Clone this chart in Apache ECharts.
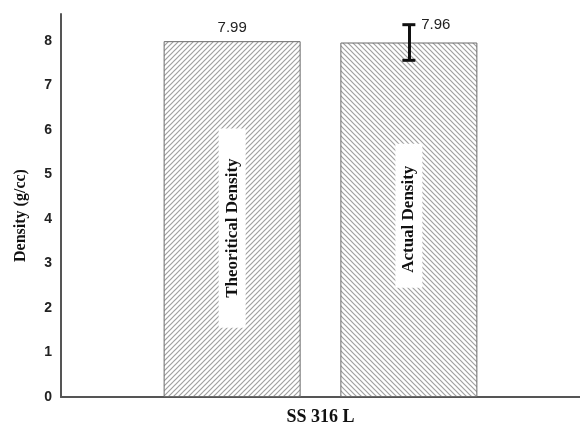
<!DOCTYPE html>
<html>
<head>
<meta charset="utf-8">
<script src="https://cdn.jsdelivr.net/npm/echarts@6/dist/echarts.min.js"></script>
<style>
  html, body { margin: 0; padding: 0; background: #ffffff; }
  #chart { width: 580px; height: 425px; }
</style>
</head>
<body>
<div id="chart"></div>
<script>
// Material and measured densities (g/cc)
const categories = ['SS 316 L'];
const seriesNames = ['Theoritical Density', 'Actual Density'];
const theoreticalValues = [7.99];
const actualValues = [7.96];
const actualError = [0.40];

// Value axis range and step
const yMin = 0;
const yMax = 8.6;
const yStep = 1;

// Diagonal hatch fill built on a small tile canvas
function hatch(dir) {
  const s = 5;
  const c = document.createElement('canvas');
  c.width = s; c.height = s;
  const g = c.getContext('2d');
  g.fillStyle = '#ffffff';
  g.fillRect(0, 0, s, s);
  g.strokeStyle = '#a0a0a0';
  g.lineWidth = 1.2;
  g.beginPath();
  if (dir === '/') {
    g.moveTo(-1, s + 1); g.lineTo(s + 1, -1);
    g.moveTo(-1, 1); g.lineTo(1, -1);
    g.moveTo(s - 1, s + 1); g.lineTo(s + 1, s - 1);
  } else {
    g.moveTo(-1, -1); g.lineTo(s + 1, s + 1);
    g.moveTo(-1, s - 1); g.lineTo(1, s + 1);
    g.moveTo(s - 1, -1); g.lineTo(s + 1, 1);
  }
  g.stroke();
  return { image: c, repeat: 'repeat' };
}

const nameLabel = {
  show: true,
  position: 'inside',
  rotate: 90,
  formatter: '{a}',
  fontFamily: 'Liberation Serif',
  fontWeight: 'bold',
  fontSize: 17,
  color: '#111111',
  backgroundColor: '#ffffff'
};

const valueLabelStyle = {
  show: true,
  position: 'top',
  fontFamily: 'Liberation Sans',
  fontSize: 15,
  color: '#222222',
  formatter: (p) => Number(p.value).toFixed(2)
};

const chart = echarts.init(document.getElementById('chart'), null, { renderer: 'canvas' });

const errLo = actualValues[0] - actualError[0];
const errHi = actualValues[0] + actualError[0];

chart.setOption({
  animation: false,
  backgroundColor: '#ffffff',
  grid: { left: 61, right: 0, top: 14, bottom: 28, containLabel: false, outerBoundsMode: 'none' },
  xAxis: {
    type: 'category',
    data: categories,
    axisLine: { show: true, lineStyle: { color: '#555555', width: 2 } },
    axisTick: { show: false },
    axisLabel: {
      fontFamily: 'Liberation Serif',
      fontWeight: 'bold',
      fontSize: 18,
      color: '#111111',
      margin: 11
    }
  },
  yAxis: {
    type: 'value',
    min: yMin,
    max: yMax,
    interval: yStep,
    name: 'Density (g/cc)',
    nameLocation: 'middle',
    nameRotate: 90,
    nameGap: 32,
    nameTextStyle: {
      fontFamily: 'Liberation Serif',
      fontWeight: 'bold',
      fontSize: 16,
      color: '#111111',
      padding: [0, 20, 0, 0]
    },
    axisLine: { show: true, lineStyle: { color: '#555555', width: 2 } },
    axisTick: { show: false },
    splitLine: { show: false },
    axisLabel: {
      fontFamily: 'Liberation Sans',
      fontWeight: 'bold',
      fontSize: 14,
      color: '#222222',
      margin: 9,
      showMaxLabel: false
    }
  },
  series: [
    {
      type: 'bar',
      name: seriesNames[0],
      data: theoreticalValues,
      barWidth: 137,
      barGap: '29%',
      itemStyle: { color: hatch('/'), borderColor: '#6b6b6b', borderWidth: 1 },
      label: Object.assign({}, nameLabel, { padding: [5, 30, 5, 30], offset: [-9, 0] }),
      emphasis: { disabled: true },
      markPoint: {
        silent: true,
        symbol: 'circle',
        symbolSize: 0,
        data: [{ type: 'max', label: Object.assign({}, valueLabelStyle, { distance: 6 }) }]
      }
    },
    {
      type: 'bar',
      name: seriesNames[1],
      data: actualValues,
      barWidth: 137,
      barGap: '29%',
      itemStyle: { color: hatch('\\'), borderColor: '#6b6b6b', borderWidth: 1 },
      label: Object.assign({}, nameLabel, { padding: [5, 22, 5, 15], offset: [4, 0] }),
      emphasis: { disabled: true },
      markLine: {
        silent: true,
        symbol: ['none', 'none'],
        label: { show: false },
        lineStyle: { color: '#111111', width: 3, type: 'solid' },
        data: [[{ coord: [categories[0], errLo] }, { coord: [categories[0], errHi] }]]
      },
      markPoint: {
        silent: true,
        data: [
          { type: 'max', symbol: 'circle', symbolSize: 0,
            label: Object.assign({}, valueLabelStyle, { distance: 10, offset: [27, 0] }) },
          { coord: [categories[0], errLo], symbol: 'rect', symbolSize: [13, 3],
            itemStyle: { color: '#111111' }, label: { show: false } },
          { coord: [categories[0], errHi], symbol: 'rect', symbolSize: [13, 3],
            itemStyle: { color: '#111111' }, label: { show: false } }
        ]
      }
    }
  ]
});
</script>
</body>
</html>
